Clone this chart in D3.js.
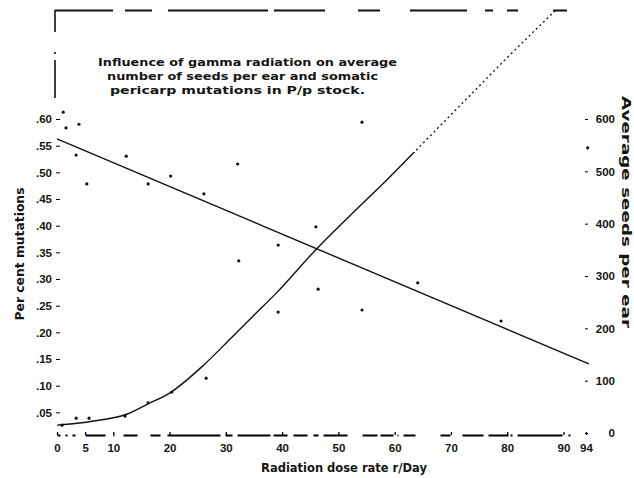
<!DOCTYPE html>
<html>
<head>
<meta charset="utf-8">
<script src="https://cdn.jsdelivr.net/npm/d3@7"></script>
<style>
  body { margin: 0; background: #fff; }
  svg { display: block; font-family: "DejaVu Sans", sans-serif; font-weight: bold; }
  text { fill: #151515; }
</style>
</head>
<body>
<svg id="chart" width="634" height="478"></svg>
<script>
// ticks
const doseTicks = [0, 5, 10, 20, 30, 40, 50, 60, 70, 80, 90, 94];
const mutationTicks = [0.05, 0.10, 0.15, 0.20, 0.25, 0.30, 0.35, 0.40, 0.45, 0.50, 0.55, 0.60];
const seedTicks = [0, 100, 200, 300, 400, 500, 600];

const seedDose = [1.1, 1.6, 3.4, 3.9, 5.3, 12.3, 16.2, 20.2, 26.1, 32.1, 39.3, 46.0, 54.2, 64.1, 78.9];
const seedValues = [613, 583, 531, 590, 476, 529, 476, 491, 457, 514, 359, 394, 235, 287, 214];

const mutationDose = [0.9, 3.4, 5.7, 12.1, 16.2, 20.4, 26.5, 32.3, 39.3, 46.4, 54.2, 94.3];
const mutationValues = [0.026, 0.039, 0.039, 0.043, 0.068, 0.088, 0.114, 0.334, 0.238, 0.281, 0.594, 0.546];

// fitted lines as drawn
const seedFitDose = [0, 94.5];
const seedFitValues = [562, 132];

const mutationFitDose = [0, 4, 8, 12, 16, 20, 26, 31, 35, 39, 46, 52, 59, 66, 73, 80, 88.8];
const mutationFitValues = [0.026, 0.030, 0.036, 0.045, 0.065, 0.086, 0.138, 0.19, 0.232, 0.274, 0.355, 0.418, 0.49, 0.565, 0.64, 0.715, 0.806];

const titleLines = [
    "Influence of gamma radiation on average",
    "number of seeds per ear and somatic",
    "pericarp mutations in P/p stock."
];

const svg = d3.select("#chart");

// scales
const x = d3.scaleLinear().domain([0, 94]).range([57, 586]);
const yLeft = d3.scaleLinear().domain([0, 0.6]).range([439, 119]);
const yRight = d3.scaleLinear().domain([0, 600]).range([433, 119]);

// frame remains (broken scan lines)
svg.append("line")
    .attr("x1", 55).attr("y1", 10.5).attr("x2", 567).attr("y2", 10.5)
    .attr("stroke", "#111").attr("stroke-width", 2)
    .attr("stroke-dasharray", "58,12,27,16,100,6,51,33,22,30,57,18,8,14,11,35,14");
svg.append("line")
    .attr("x1", 55).attr("y1", 10).attr("x2", 55).attr("y2", 98)
    .attr("stroke", "#111").attr("stroke-width", 1.6)
    .attr("stroke-dasharray", "22,20,2,6,38");

// x axis
const xAxis = svg.append("g")
    .attr("transform", "translate(0,435)")
    .call(d3.axisBottom(x).tickValues(doseTicks).tickSizeInner(-3).tickSizeOuter(0).tickPadding(9));
xAxis.select(".domain")
    .attr("stroke-width", 1.8)
    .attr("stroke-dasharray", "3,5,2,5,3,10,20,8,1,9,14,13,10,7,53,5,7,5,33,3,14,6,14,6,5,5,24,15,15,3,13,4,1,5,12,25,10,12,21,5,20,2,2,5,45,6,2,100");
xAxis.selectAll(".tick line").attr("stroke-width", 1.3);
xAxis.selectAll("text").attr("font-size", 11.5);

// left axis
const leftAxis = svg.append("g")
    .attr("transform", "translate(60,0)")
    .call(d3.axisLeft(yLeft).tickValues(mutationTicks).tickSize(4).tickPadding(4)
        .tickFormat(d => d3.format(".2f")(d).replace(/^0/, "")));
leftAxis.select(".domain").remove();
leftAxis.selectAll("text").attr("font-size", 11.5);

// right axis
const rightAxis = svg.append("g")
    .attr("transform", "translate(585,0)")
    .call(d3.axisRight(yRight).tickValues(seedTicks).tickSize(3).tickPadding(6));
rightAxis.select(".domain").remove();
rightAxis.selectAll("text").attr("font-size", 11.5).attr("text-anchor", "end").attr("x", 30);

// clip regions for the mutation curve (solid low, dotted high)
const defs = svg.append("defs");
defs.append("clipPath").attr("id", "lowPart")
    .append("rect").attr("x", 0).attr("y", 152).attr("width", 634).attr("height", 300);
defs.append("clipPath").attr("id", "highPart")
    .append("rect").attr("x", 0).attr("y", 10).attr("width", 634).attr("height", 142);

// seeds regression line
const seedLine = d3.line()
    .x((d, i) => x(seedFitDose[i]))
    .y(d => yRight(d));
svg.append("path")
    .attr("d", seedLine(seedFitValues))
    .attr("fill", "none").attr("stroke", "#111").attr("stroke-width", 1.4);

// mutation curve
const mutLine = d3.line()
    .x((d, i) => x(mutationFitDose[i]))
    .y(d => yLeft(d))
    .curve(d3.curveMonotoneX);
svg.append("path")
    .attr("d", mutLine(mutationFitValues))
    .attr("clip-path", "url(#lowPart)")
    .attr("fill", "none").attr("stroke", "#111").attr("stroke-width", 1.4);
svg.append("path")
    .attr("d", mutLine(mutationFitValues))
    .attr("clip-path", "url(#highPart)")
    .attr("fill", "none").attr("stroke", "#111").attr("stroke-width", 1.3)
    .attr("stroke-dasharray", "2,3");

// points
svg.selectAll(".seed")
    .data(seedValues)
    .enter()
    .append("circle")
    .attr("class", "seed")
    .attr("cx", (d, i) => x(seedDose[i]))
    .attr("cy", d => yRight(d))
    .attr("r", 1.6)
    .attr("fill", "#111");

svg.selectAll(".mut")
    .data(mutationValues)
    .enter()
    .append("circle")
    .attr("class", "mut")
    .attr("cx", (d, i) => x(mutationDose[i]))
    .attr("cy", d => yLeft(d))
    .attr("r", 1.6)
    .attr("fill", "#111");

// title block
const titleX = [98, 107, 110];
const titleLen = [299, 271, 255];
svg.selectAll(".title")
    .data(titleLines)
    .enter()
    .append("text")
    .attr("class", "title")
    .attr("x", (d, i) => titleX[i])
    .attr("y", (d, i) => 66 + i * 14)
    .attr("font-size", 11)
    .attr("textLength", (d, i) => titleLen[i])
    .attr("lengthAdjust", "spacingAndGlyphs")
    .text(d => d);

// axis titles
svg.append("text")
    .attr("x", 344).attr("y", 472)
    .attr("text-anchor", "middle")
    .attr("font-size", 11.5)
    .text("Radiation dose rate r/Day");

svg.append("text")
    .attr("transform", "translate(24,254) rotate(-90)")
    .attr("text-anchor", "middle")
    .attr("font-size", 11.5)
    .attr("textLength", 133)
    .attr("lengthAdjust", "spacingAndGlyphs")
    .text("Per cent mutations");

svg.append("text")
    .attr("transform", "translate(622,212) rotate(90)")
    .attr("text-anchor", "middle")
    .attr("font-size", 11.5)
    .attr("textLength", 232)
    .attr("lengthAdjust", "spacingAndGlyphs")
    .text("Average seeds per ear");
</script>
</body>
</html>
